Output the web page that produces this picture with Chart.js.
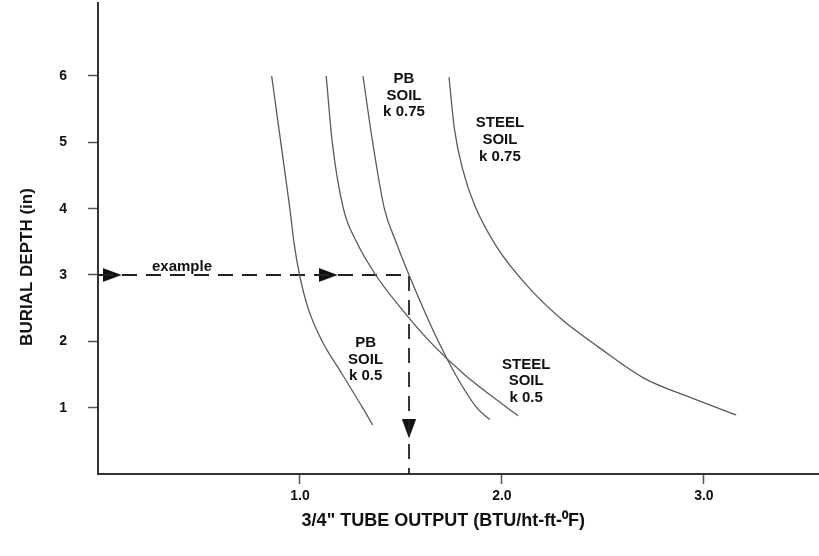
<!DOCTYPE html>
<html>
<head>
<meta charset="utf-8">
<script src="https://cdn.jsdelivr.net/npm/chart.js@4"></script>
<style>
  html, body { margin: 0; padding: 0; background: #fff; }
  #wrap { width: 819px; height: 556px; position: relative; }
</style>
</head>
<body>
<div id="wrap"><canvas id="c" width="819" height="556"></canvas></div>
<script>
// ---- data ----
const xTickValues = [1, 2, 3];
const yTickValues = [1, 2, 3, 4, 5, 6];

const pbK05X = [0.86, 0.905, 0.95, 0.97, 0.998, 1.04, 1.11, 1.21, 1.31, 1.36];
const pbK05Y = [6.0, 5.0, 4.0, 3.5, 3.0, 2.5, 2.0, 1.5, 1.0, 0.74];

const steelK05X = [1.13, 1.16, 1.215, 1.28, 1.375, 1.50, 1.642, 1.814, 2.026, 2.08];
const steelK05Y = [6.0, 5.0, 4.0, 3.5, 3.0, 2.5, 2.0, 1.5, 1.0, 0.88];

const pbK075X = [1.312, 1.36, 1.418, 1.475, 1.54, 1.61, 1.685, 1.77, 1.875, 1.94];
const pbK075Y = [6.0, 5.0, 4.0, 3.5, 3.0, 2.5, 2.0, 1.5, 1.0, 0.82];

const steelK075X = [1.738, 1.765, 1.805, 1.865, 1.975, 2.13, 2.30, 2.475, 2.70, 2.91, 3.16];
const steelK075Y = [5.98, 5.2, 4.6, 4.05, 3.42, 2.82, 2.32, 1.92, 1.45, 1.18, 0.89];

const exampleX = [0, 1.54, 1.54];
const exampleY = [3, 3, 0];

const arrowX = [0.07, 1.14, 1.54];
const arrowY = [3, 3, 0.68];
const arrowRot = [90, 90, 180];

const labels = [
  { lines: ['example'], x: 0.416, y: 3.12 },
  { lines: ['PB', 'SOIL', 'k 0.75'], x: 1.515, y: 5.96 },
  { lines: ['STEEL', 'SOIL', 'k 0.75'], x: 1.99, y: 5.29 },
  { lines: ['PB', 'SOIL', 'k 0.5'], x: 1.325, y: 1.98 },
  { lines: ['STEEL', 'SOIL', 'k 0.5'], x: 2.12, y: 1.65 }
];

const xTitle = '3/4" TUBE OUTPUT (BTU/ht-ft-\u2070F)';
const yTitle = 'BURIAL DEPTH (in)';
const xTitleAt = 1.71;  // x value under the centre of the x title
const yTitleAt = 3.12;  // y value beside the centre of the y title

// ---- build ----
const pts = (xs, ys) => xs.map((x, i) => ({ x: x, y: ys[i] }));

const arrowImg = document.createElement('canvas');
arrowImg.width = 14; arrowImg.height = 19;
(function () {
  const g = arrowImg.getContext('2d');
  g.fillStyle = '#111';
  g.beginPath();
  g.moveTo(7, 0); g.lineTo(14, 19); g.lineTo(0, 19); g.closePath();
  g.fill();
})();

const curveStyle = {
  borderColor: '#5a5a5a', borderWidth: 1.3, pointRadius: 0,
  cubicInterpolationMode: 'monotone', fill: false
};

const FONT = '"Liberation Sans", Arial, sans-serif';

const textPlugin = {
  id: 'texts',
  afterDatasetsDraw(chart) {
    const ctx = chart.ctx;
    const xs = chart.scales.x, ys = chart.scales.y;
    ctx.save();
    ctx.fillStyle = '#111';
    ctx.font = 'bold 15px ' + FONT;
    ctx.textAlign = 'center';
    ctx.textBaseline = 'middle';
    labels.forEach(l => {
      const px = xs.getPixelForValue(l.x);
      const py = ys.getPixelForValue(l.y);
      l.lines.forEach((t, i) => ctx.fillText(t, px, py + i * 16.8));
    });
    // x axis title
    ctx.font = 'bold 18px ' + FONT;
    ctx.fillText(xTitle, xs.getPixelForValue(xTitleAt), 521);
    // y axis title
    ctx.save();
    ctx.translate(27, ys.getPixelForValue(yTitleAt));
    ctx.rotate(-Math.PI / 2);
    ctx.font = 'bold 17px ' + FONT;
    ctx.fillText(yTitle, 0, 0);
    ctx.restore();
    ctx.restore();
  }
};

new Chart(document.getElementById('c'), {
  type: 'scatter',
  data: {
    datasets: [
      Object.assign({ label: 'PB SOIL k 0.5', data: pts(pbK05X, pbK05Y), showLine: true }, curveStyle),
      Object.assign({ label: 'STEEL SOIL k 0.5', data: pts(steelK05X, steelK05Y), showLine: true }, curveStyle),
      Object.assign({ label: 'PB SOIL k 0.75', data: pts(pbK075X, pbK075Y), showLine: true }, curveStyle),
      Object.assign({ label: 'STEEL SOIL k 0.75', data: pts(steelK075X, steelK075Y), showLine: true }, curveStyle),
      { label: 'example', data: pts(exampleX, exampleY), showLine: true,
        borderColor: '#222', borderWidth: 1.8, borderDash: [15, 9], pointRadius: 0, tension: 0 },
      { label: 'arrows', data: pts(arrowX, arrowY), showLine: false,
        pointStyle: arrowImg, rotation: arrowRot, pointRadius: 8,
        backgroundColor: '#111', borderColor: '#111' }
    ]
  },
  options: {
    responsive: false,
    animation: false,
    layout: { autoPadding: false, padding: { top: 3, right: 0, left: 0, bottom: 0 } },
    plugins: { legend: { display: false }, tooltip: { enabled: false } },
    scales: {
      x: {
        type: 'linear', min: 0, max: 3.57,
        afterBuildTicks: s => { s.ticks = xTickValues.map(v => ({ value: v })); },
        afterFit: s => { s.height = 82; s.paddingLeft = 0; s.paddingRight = 0; },
        ticks: { callback: v => v.toFixed(1), font: { family: FONT, size: 14, weight: 'bold' }, color: '#111', padding: 4 },
        grid: { drawOnChartArea: false, drawTicks: true, tickLength: 10, color: '#555', tickWidth: 1.5 },
        border: { display: true, color: '#333', width: 2 },
        title: { display: false }
      },
      y: {
        type: 'linear', min: 0, max: 7.1,
        afterBuildTicks: s => { s.ticks = yTickValues.map(v => ({ value: v })); },
        afterFit: s => { s.width = 98; s.paddingTop = 0; s.paddingBottom = 0; },
        ticks: { callback: v => String(v), font: { family: FONT, size: 14, weight: 'bold' }, color: '#111', padding: 21 },
        grid: { drawOnChartArea: false, drawTicks: true, tickLength: 10, color: '#555', tickWidth: 1.5 },
        border: { display: true, color: '#333', width: 2 },
        title: { display: false }
      }
    }
  },
  plugins: [textPlugin]
});
</script>
</body>
</html>
